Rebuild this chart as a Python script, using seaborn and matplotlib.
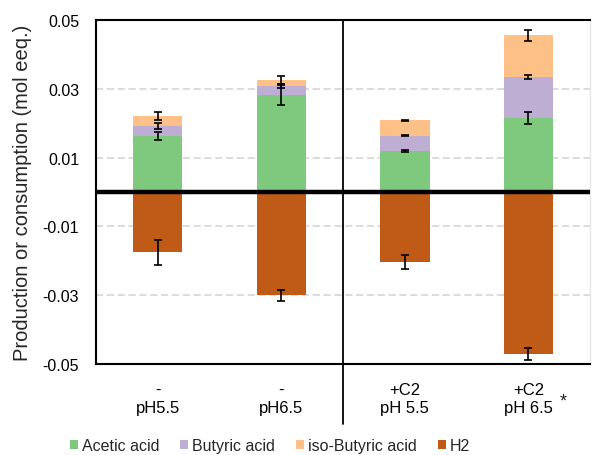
import numpy as np
import pandas as pd
import matplotlib
matplotlib.use("Agg")
import matplotlib.pyplot as plt
from matplotlib.patches import Patch
import seaborn as sns

# Treatments (two-line tick labels) and component values in mol eeq.
conditions = ["-\npH5.5", "-\npH6.5", "+C2\npH 5.5", "+C2\npH 6.5"]
acetic = [0.0162, 0.0281, 0.0119, 0.0215]
butyric = [0.0029, 0.0026, 0.0044, 0.0118]
iso_butyric = [0.0029, 0.0018, 0.0045, 0.0122]
h2 = [-0.0175, -0.0300, -0.0204, -0.0470]

# Standard deviations for each component
acetic_err = [0.0011, 0.0028, 0.0003, 0.0017]
butyric_err = [0.0008, 0.0006, 0.0001, 0.0006]
iso_butyric_err = [0.0012, 0.0011, 0.0001, 0.0016]
h2_err = [0.0036, 0.0017, 0.0020, 0.0017]

series_names = ["Acetic acid", "Butyric acid", "iso-Butyric acid", "H2"]
yticks = [0.05, 0.03, 0.01, -0.01, -0.03, -0.05]

sns.set_theme(style="white")
plt.rcParams["font.family"] = ["Liberation Sans", "DejaVu Sans"]

accent = sns.color_palette("Accent")
colors = [accent[0], accent[1], accent[2], accent[6]]

fig = plt.figure(figsize=(5.92, 4.56), dpi=100)
ax = fig.add_axes([0.162, 0.1985, 0.835, 0.7565])

df = pd.DataFrame({
    "condition": conditions,
    "acetic": acetic,
    "butyric": butyric,
    "iso": iso_butyric,
    "h2": h2,
})

layers = [("acetic", acetic_err), ("butyric", butyric_err), ("iso", iso_butyric_err)]
bottom = np.zeros(len(conditions))
tops = []
for (col, _), color in zip(layers, colors[:3]):
    sns.barplot(data=df, x="condition", y=col, color=color, width=0.4,
                bottom=bottom.copy(), ax=ax, zorder=2, saturation=1,
                linewidth=0)
    bottom = bottom + df[col].to_numpy()
    tops.append(bottom.copy())

sns.barplot(data=df, x="condition", y="h2", color=colors[3], width=0.4,
            ax=ax, zorder=2, saturation=1, linewidth=0)

xpos = np.arange(len(conditions))
err_style = dict(fmt="none", ecolor="black", elinewidth=1.2, capsize=3,
                 capthick=1.2, zorder=4)
for top, (_, err) in zip(tops, layers):
    ax.errorbar(xpos, top, yerr=err, **err_style)
ax.errorbar(xpos, df["h2"], yerr=h2_err, **err_style)

ax.set_xlim(-0.5, 3.5)
ax.set_ylim(-0.05, 0.05)
ax.set_yticks(yticks)
ax.set_yticklabels([f"{v:.2f}" for v in yticks])
ax.set_xlabel("")
ax.set_ylabel("Production or consumption (mol eeq.)", fontsize=14.5,
              labelpad=8)
ax.tick_params(axis="y", length=0, pad=12, labelsize=11.5, colors="black")
ax.tick_params(axis="x", length=0, pad=12.5, labelsize=12, colors="black")
for lbl in ax.get_xticklabels():
    lbl.set_linespacing(1.25)

for y in [0.03, 0.01, -0.01, -0.03]:
    ax.axhline(y, color="#d9d9d9", lw=1.3, ls=(0, (4, 2)), zorder=1)

for side in ["top", "left", "bottom"]:
    ax.spines[side].set_color("black")
    ax.spines[side].set_linewidth(1.5)
ax.spines["right"].set_color("#e6e6e6")
ax.spines["right"].set_linewidth(1.0)

ax.axhline(0, color="black", lw=3.2, zorder=5)
ax.axvline(1.5, ymin=-0.172, ymax=1, color="black", lw=1.3,
           clip_on=False, zorder=5)

ax.text(3.25, -0.0605, "*", fontsize=13, ha="left", va="center",
        transform=ax.transData, clip_on=False)

handles = [Patch(facecolor=c, edgecolor="none") for c in colors]
fig.legend(handles, series_names, loc="center", bbox_to_anchor=(0.456, 0.021),
           ncol=4, frameon=False, fontsize=11.5, handlelength=0.5,
           handleheight=0.5, handletextpad=0.25, columnspacing=1.3,
           borderpad=0)

fig.savefig("out.png", dpi=100)
